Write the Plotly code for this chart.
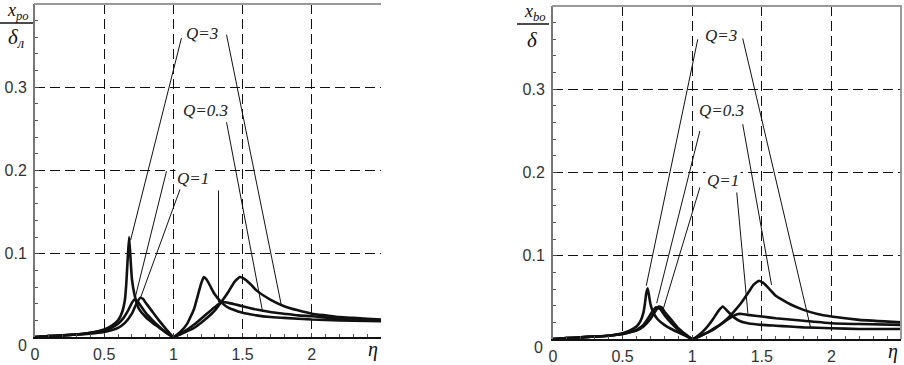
import plotly.graph_objects as go

W, H = 904, 365

# ---------------- data ----------------
# left panel  (x_po / delta_l)
L3_eta = [0, 0.1, 0.2, 0.3, 0.4, 0.5, 0.55, 0.6, 0.63, 0.65, 0.66, 0.67, 0.68, 0.69, 0.7, 0.72, 0.75, 0.8, 0.85, 0.9, 0.95, 1.0,
          1.05, 1.1, 1.15, 1.2, 1.25, 1.3, 1.35, 1.4, 1.44, 1.48, 1.52, 1.56, 1.6, 1.7, 1.8, 1.9, 2.0, 2.1, 2.2, 2.3, 2.4, 2.5]
L3_val = [0, 0.001, 0.002, 0.003, 0.005, 0.009, 0.013, 0.02, 0.03, 0.045, 0.065, 0.095, 0.12, 0.095, 0.07, 0.05, 0.034, 0.024, 0.017, 0.011, 0.005, 0,
          0.003, 0.007, 0.011, 0.017, 0.024, 0.032, 0.043, 0.055, 0.066, 0.072, 0.069, 0.063, 0.056, 0.045, 0.037, 0.032, 0.028, 0.026, 0.024, 0.023, 0.022, 0.021]

L03_eta = [0, 0.1, 0.2, 0.3, 0.4, 0.5, 0.55, 0.6, 0.64, 0.67, 0.7, 0.72, 0.74, 0.77, 0.8, 0.85, 0.9, 0.95, 1.0,
           1.05, 1.1, 1.15, 1.18, 1.2, 1.22, 1.24, 1.27, 1.3, 1.35, 1.4, 1.5, 1.6, 1.7, 1.8, 2.0, 2.2, 2.5]
L03_val = [0, 0.001, 0.002, 0.003, 0.005, 0.008, 0.011, 0.016, 0.023, 0.031, 0.041, 0.045, 0.043, 0.036, 0.029, 0.02, 0.012, 0.005, 0,
           0.006, 0.016, 0.034, 0.052, 0.064, 0.072, 0.069, 0.06, 0.051, 0.041, 0.035, 0.029, 0.026, 0.024, 0.023, 0.021, 0.020, 0.019]

L1_eta = [0, 0.1, 0.2, 0.3, 0.4, 0.5, 0.55, 0.6, 0.65, 0.7, 0.73, 0.76, 0.78, 0.8, 0.85, 0.9, 0.95, 1.0,
          1.05, 1.1, 1.15, 1.2, 1.25, 1.3, 1.35, 1.4, 1.45, 1.5, 1.6, 1.7, 1.8, 1.9, 2.0, 2.2, 2.5]
L1_val = [0, 0.001, 0.002, 0.003, 0.004, 0.006, 0.008, 0.011, 0.017, 0.028, 0.039, 0.047, 0.046, 0.041, 0.03, 0.019, 0.009, 0,
          0.004, 0.009, 0.015, 0.022, 0.029, 0.036, 0.042, 0.041, 0.039, 0.037, 0.033, 0.03, 0.028, 0.026, 0.025, 0.022, 0.020]

# right panel (x_bo / delta)
R3_eta = [0, 0.1, 0.2, 0.3, 0.4, 0.5, 0.55, 0.6, 0.63, 0.65, 0.66, 0.67, 0.68, 0.69, 0.7, 0.72, 0.75, 0.8, 0.85, 0.9, 0.95, 1.0,
          1.05, 1.1, 1.15, 1.2, 1.25, 1.3, 1.35, 1.4, 1.44, 1.48, 1.52, 1.56, 1.6, 1.7, 1.8, 1.9, 2.0, 2.2, 2.5]
R3_val = [0, 0.001, 0.002, 0.003, 0.004, 0.007, 0.01, 0.015, 0.022, 0.032, 0.042, 0.055, 0.061, 0.052, 0.042, 0.032, 0.024, 0.017, 0.012, 0.008, 0.004, 0,
          0.003, 0.007, 0.011, 0.017, 0.024, 0.033, 0.043, 0.055, 0.065, 0.070, 0.066, 0.059, 0.052, 0.042, 0.035, 0.030, 0.027, 0.023, 0.020]

R03_eta = [0, 0.1, 0.2, 0.3, 0.4, 0.5, 0.55, 0.6, 0.65, 0.68, 0.71, 0.74, 0.77, 0.8, 0.85, 0.9, 0.95, 1.0,
           1.05, 1.1, 1.15, 1.19, 1.22, 1.25, 1.3, 1.35, 1.4, 1.5, 1.6, 1.7, 1.8, 2.0, 2.2, 2.5]
R03_val = [0, 0.001, 0.002, 0.003, 0.004, 0.006, 0.008, 0.011, 0.017, 0.024, 0.032, 0.038, 0.036, 0.029, 0.019, 0.011, 0.005, 0,
           0.005, 0.013, 0.024, 0.034, 0.039, 0.034, 0.026, 0.021, 0.019, 0.017, 0.016, 0.015, 0.014, 0.013, 0.012, 0.012]

R1_eta = [0, 0.1, 0.2, 0.3, 0.4, 0.5, 0.55, 0.6, 0.65, 0.7, 0.73, 0.76, 0.78, 0.8, 0.85, 0.9, 0.95, 1.0,
          1.05, 1.1, 1.15, 1.2, 1.25, 1.3, 1.33, 1.36, 1.4, 1.5, 1.6, 1.8, 2.0, 2.2, 2.5]
R1_val = [0, 0.001, 0.002, 0.003, 0.004, 0.006, 0.008, 0.01, 0.015, 0.024, 0.032, 0.039, 0.038, 0.033, 0.023, 0.013, 0.006, 0,
          0.003, 0.007, 0.012, 0.017, 0.023, 0.028, 0.030, 0.030, 0.029, 0.027, 0.025, 0.022, 0.019, 0.018, 0.017]

# leader lines: (eta0, v0, eta1, v1)
L_leaders = [(1.058, 0.359, 0.69, 0.116), (0.95, 0.199, 0.725, 0.048), (1.058, 0.182, 0.76, 0.046),
             (1.384, 0.363, 1.78, 0.038), (1.384, 0.258, 1.645, 0.030), (1.326, 0.176, 1.326, 0.042)]
R_leaders = [(1.04, 0.36, 0.67, 0.064), (1.055, 0.25, 0.745, 0.043), (1.055, 0.182, 0.79, 0.035),
             (1.363, 0.361, 1.85, 0.014), (1.363, 0.258, 1.57, 0.065), (1.32, 0.176, 1.40, 0.031)]

# curve labels: (text, eta, v)
L_labels = [("Q=3", 1.21, 0.365), ("Q=0.3", 1.23, 0.272), ("Q=1", 1.145, 0.19)]
R_labels = [("Q=3", 1.21, 0.365), ("Q=0.3", 1.21, 0.275), ("Q=1", 1.22, 0.19)]

x_tickvals = [0, 0.5, 1, 1.5, 2]
x_ticktext = ["0", "0.5", "1", "1.5", "2"]
y_tickvals = [0.1, 0.2, 0.3]
y_ticktext = ["0.1", "0.2", "0.3"]

# ---------------- figure ----------------
def px(x):
    return x / W

def py(y):
    return 1 - y / H

fig = go.Figure()

curve_color = "#111111"
for (eta, val) in [(L3_eta, L3_val), (L03_eta, L03_val), (L1_eta, L1_val)]:
    fig.add_trace(go.Scatter(x=eta, y=val, mode="lines", xaxis="x", yaxis="y",
                             line=dict(color=curve_color, width=2.6, shape="spline", smoothing=0.4),
                             showlegend=False, hoverinfo="skip"))
for (eta, val) in [(R3_eta, R3_val), (R03_eta, R03_val), (R1_eta, R1_val)]:
    fig.add_trace(go.Scatter(x=eta, y=val, mode="lines", xaxis="x2", yaxis="y2",
                             line=dict(color=curve_color, width=2.6, shape="spline", smoothing=0.4),
                             showlegend=False, hoverinfo="skip"))

for (x0, y0, x1, y1) in L_leaders:
    fig.add_trace(go.Scatter(x=[x0, x1], y=[y0, y1], mode="lines", xaxis="x", yaxis="y",
                             line=dict(color="#111", width=1), showlegend=False, hoverinfo="skip"))
for (x0, y0, x1, y1) in R_leaders:
    fig.add_trace(go.Scatter(x=[x0, x1], y=[y0, y1], mode="lines", xaxis="x2", yaxis="y2",
                             line=dict(color="#111", width=1), showlegend=False, hoverinfo="skip"))

label_font = dict(family="Liberation Serif", size=17, color="#222")
annotations = []
for (t, x, y) in L_labels:
    annotations.append(dict(text="<i>%s</i>" % t, x=x, y=y, xref="x", yref="y",
                            showarrow=False, font=label_font, bgcolor="white"))
for (t, x, y) in R_labels:
    annotations.append(dict(text="<i>%s</i>" % t, x=x, y=y, xref="x2", yref="y2",
                            showarrow=False, font=label_font, bgcolor="white"))

tick_font = dict(family="Liberation Sans", size=16, color="#333")
serif = "Liberation Serif"
paper_texts = [
    ("0", 22, 345, tick_font),
    ("0", 538, 347, tick_font),
    ("<i>η</i>", 373, 349, dict(family=serif, size=20, color="#111")),
    ("<i>η</i>", 893, 351, dict(family=serif, size=20, color="#111")),
    ("<i>x</i><sub><i>po</i></sub>", 18, 12, dict(family=serif, size=18, color="#111")),
    ("<i>δ</i><sub><i>л</i></sub>", 16, 38, dict(family=serif, size=21, color="#111")),
    ("<i>x</i><sub><i>bo</i></sub>", 535, 13, dict(family=serif, size=18, color="#111")),
    ("<i>δ</i>", 532, 40, dict(family=serif, size=21, color="#111")),
]
for (t, x, y, f) in paper_texts:
    annotations.append(dict(text=t, x=px(x), y=py(y), xref="paper", yref="paper", showarrow=False,
                            xanchor="center", yanchor="middle", font=f))

shapes = [
    dict(type="line", xref="paper", yref="paper", x0=px(0), x1=px(33), y0=py(23), y1=py(23),
         line=dict(color="#111", width=1.5)),
    dict(type="line", xref="paper", yref="paper", x0=px(517), x1=px(549), y0=py(24), y1=py(24),
         line=dict(color="#111", width=1.5)),
    dict(type="line", xref="paper", yref="paper", x0=px(34), x1=px(381), y0=py(4), y1=py(4),
         line=dict(color="#999", width=2)),
    dict(type="line", xref="paper", yref="paper", x0=px(552), x1=px(902), y0=py(6), y1=py(6),
         line=dict(color="#999", width=2)),
    dict(type="line", xref="paper", yref="paper", x0=px(901), x1=px(901), y0=py(6), y1=py(339),
         line=dict(color="#999", width=2)),
]

common_x = dict(range=[0, 2.5], tickvals=x_tickvals, ticktext=x_ticktext, automargin=False,
                showgrid=True, gridcolor="#111", gridwidth=1.2, griddash="10px,5px",
                showline=True, linecolor="#111", linewidth=2, ticks="inside", ticklen=4,
                tickcolor="#444", tickfont=tick_font, zeroline=False, ticklabelstandoff=2,
                minor=dict(dtick=0.1, ticks="inside", ticklen=3, tickcolor="#555", showgrid=False))
common_y = dict(range=[0, 0.4], tickvals=y_tickvals, ticktext=y_ticktext, automargin=False,
                showgrid=True, gridcolor="#111", gridwidth=1.2, griddash="10px,5px",
                showline=True, linecolor="#777", linewidth=2, ticks="inside", ticklen=4,
                tickcolor="#444", tickfont=tick_font, zeroline=False, ticklabelstandoff=3,
                minor=dict(dtick=0.02, ticks="inside", ticklen=3, tickcolor="#555", showgrid=False))

fig.update_layout(
    width=W, height=H,
    margin=dict(l=0, r=0, t=0, b=0, autoexpand=False),
    paper_bgcolor="white", plot_bgcolor="white",
    xaxis=dict(domain=[px(35), px(381)], anchor="y", **common_x),
    yaxis=dict(domain=[py(337), py(4)], anchor="x", **common_y),
    xaxis2=dict(domain=[px(553), px(901)], anchor="y2", **common_x),
    yaxis2=dict(domain=[py(339), py(6)], anchor="x2", **common_y),
    annotations=annotations,
    shapes=shapes,
)

fig.write_html("out.html", config={"displayModeBar": False},
               post_script="document.body.style.margin='0px';document.body.style.padding='0px';document.body.style.overflow='hidden';")
